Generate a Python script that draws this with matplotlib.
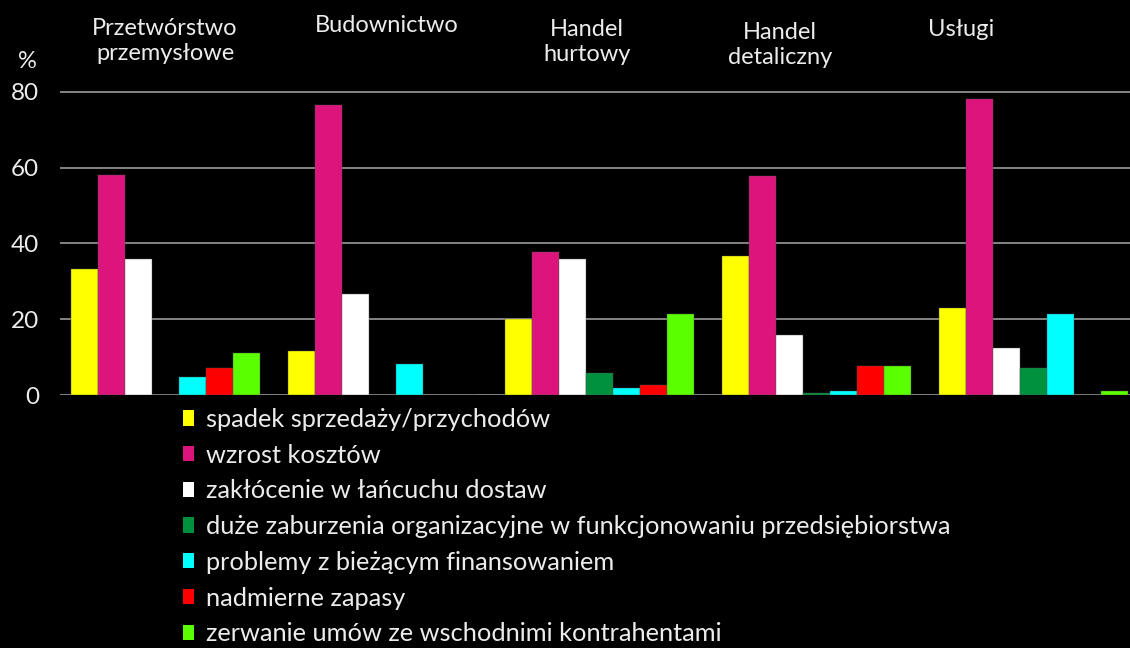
import numpy as np
import matplotlib
matplotlib.use("Agg")
import matplotlib.pyplot as plt

plt.rcParams['font.family'] = ['Lato', 'DejaVu Sans']

# sectors (top labels)
sectors = ["Przetwórstwo\nprzemysłowe", "Budownictwo", "Handel\nhurtowy",
           "Handel\ndetaliczny", "Usługi"]

# series names (legend)
series = ["spadek sprzedaży/przychodów",
          "wzrost kosztów",
          "zakłócenie w łańcuchu dostaw",
          "duże zaburzenia organizacyjne w funkcjonowaniu przedsiębiorstwa",
          "problemy z bieżącym finansowaniem",
          "nadmierne zapasy",
          "zerwanie umów ze wschodnimi kontrahentami"]

# values in %, one list per series, in sector order
spadek = [33.2, 11.7, 20.1, 36.8, 22.9]
koszty = [58.1, 76.4, 37.8, 57.8, 78.1]
lancuch = [36.0, 26.6, 36.0, 15.8, 12.5]
zaburzenia = [0.0, 0.0, 5.7, 0.6, 7.0]
finansowanie = [4.7, 8.1, 1.9, 1.0, 21.5]
zapasy = [7.1, 0.0, 2.6, 7.7, 0.0]
umowy = [11.1, 0.0, 21.5, 7.7, 1.0]

values = [spadek, koszty, lancuch, zaburzenia, finansowanie, zapasy, umowy]
colors = ["#ffff00", "#dc147c", "#ffffff", "#00913f", "#00ffff", "#ff0000", "#5aff00"]

txt = "#ececec"

fig = plt.figure(figsize=(11.3, 6.48), dpi=100)
fig.patch.set_facecolor("black")
W, H = 1130, 648
ax = fig.add_axes([60 / W, 1 - 395 / H, 1070 / W, (395 - 88) / H])
ax.set_facecolor("black")

x = np.arange(len(sectors))
bw = 0.1245
handles = []
for i, (vals, c) in enumerate(zip(values, colors)):
    b = ax.bar(x + (i - 3) * bw, vals, bw, color=c, zorder=3,
               edgecolor="#555555", linewidth=0.3, label=series[i])
    handles.append(b)

ax.set_xlim(-0.486, 4.445)
ax.set_ylim(0, 81)
ax.set_yticks([0, 20, 40, 60, 80])
ax.set_xticks([])
ax.grid(axis="y", color="#9a9a9a", linewidth=1.2, zorder=0)
for s in ax.spines.values():
    s.set_visible(False)
ax.tick_params(axis="y", length=0, pad=15, labelsize=17.5, labelcolor=txt)

fig.text(27 / W, 1 - 62 / H, "%", color=txt, fontsize=17, ha="center", va="center")

# sector labels above the plot
label_px = [(165, 41), (387, 25), (587, 42), (780, 45), (961, 30)]
for name, (px, py) in zip(sectors, label_px):
    fig.text(px / W, 1 - py / H, name, color=txt, fontsize=17,
             ha="center", va="center", linespacing=1.2)

leg = fig.legend(handles=handles, loc="upper left",
                 bbox_to_anchor=(183 / W, 1 - 408 / H), frameon=False,
                 fontsize=18.3, labelcolor=txt, handlelength=0.45,
                 handleheight=0.55, handletextpad=0.44, labelspacing=0.5,
                 borderaxespad=0, borderpad=0)
for h in leg.legend_handles:
    h.set_edgecolor("none")

fig.savefig("out.png", dpi=100, facecolor="black")
